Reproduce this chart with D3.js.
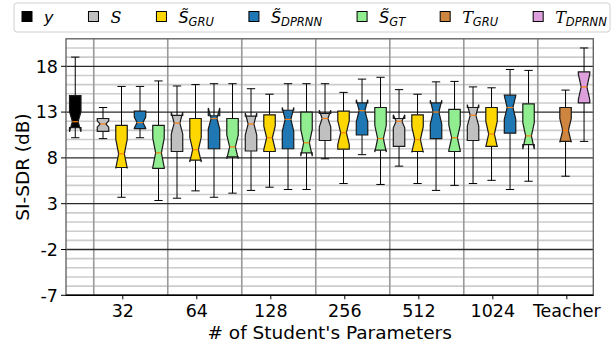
<!DOCTYPE html>
<html>
<head>
<meta charset="utf-8">
<script src="https://cdn.jsdelivr.net/npm/d3@7"></script>
<style>
  body { margin: 0; background: #fff; }
  svg { display: block; }
  text { font-family: "DejaVu Sans", sans-serif; fill: #000; }
</style>
</head>
<body>
<svg id="chart" width="616" height="350"></svg>
<script>
// Student model sizes on the x axis
const groups = ["32", "64", "128", "256", "512", "1024"];
const tickLabels = ["32", "64", "128", "256", "512", "1024", "Teacher"];
const yTicks = [-7, -2, 3, 8, 13, 18];

// Each box: [whisker low, q1, median, q3, whisker high, notch half-height]  (SI-SDR, dB)
const mixture = [10.2, 11.3, 11.95, 14.8, 19.0, 1.1];
const studentS = [
  [10.1, 10.9, 11.7, 12.3, 13.5, 0.35],
  [3.6, 8.7, 11.8, 12.65, 15.85, 1.2],
  [4.45, 8.75, 11.7, 12.55, 15.55, 1.2],
  [7.9, 9.9, 12.3, 12.85, 16.1, 0.9],
  [7.1, 9.25, 12.0, 12.3, 15.45, 0.72],
  [5.2, 9.9, 12.65, 13.5, 15.75, 1.17]
];
const studentGRU = [
  [3.7, 6.95, 8.45, 11.55, 15.8, 1.6],
  [4.4, 7.75, 8.9, 12.3, 16.0, 1.35],
  [4.8, 8.7, 10.2, 12.7, 14.95, 1.3],
  [5.2, 8.95, 10.75, 13.1, 15.15, 1.3],
  [5.2, 8.7, 10.0, 12.7, 14.95, 1.4],
  [5.55, 9.25, 10.6, 13.5, 15.65, 1.4]
];
const studentDPRNN = [
  [10.2, 11.2, 11.85, 13.1, 15.8, 0.6],
  [3.7, 9.0, 12.3, 12.6, 16.1, 1.15],
  [4.55, 9.0, 12.2, 13.2, 16.1, 1.3],
  [8.35, 10.5, 13.15, 14.0, 16.6, 1.2],
  [4.45, 10.1, 13.0, 14.0, 16.3, 1.3],
  [4.55, 10.7, 13.5, 14.85, 17.65, 1.3]
];
const studentGT = [
  [3.35, 6.85, 8.55, 11.55, 16.4, 1.6],
  [4.15, 8.1, 9.2, 12.3, 16.1, 1.3],
  [4.55, 8.55, 9.65, 13.0, 16.1, 1.46],
  [5.1, 8.85, 10.1, 13.5, 16.8, 1.46],
  [5.0, 8.7, 10.2, 13.3, 16.35, 1.4],
  [5.45, 9.45, 10.4, 13.9, 17.55, 1.45]
];
const teacherGRU = [6.0, 9.8, 11.0, 13.5, 15.4, 1.3];
const teacherDPRNN = [9.8, 14.0, 15.75, 17.4, 20.0, 1.4];

const svg = d3.select("#chart");
const W = 616, H = 350;
svg.append("rect").attr("width", W).attr("height", H).attr("fill", "#fff");

const x = d3.scaleLinear().domain([-0.5, 28]).range([66, 593.3]);
const y = d3.scaleLinear().domain([-7, 21]).range([295.3, 38.8]);

const BOX_W = 0.62, CAP_W = 0.45;

// Group g starts at slot 1 + 4g; boxes sit in the middle of each slot
const groupStart = g => 1 + 4 * g;
const boxes = [];
boxes.push({ pos: 0, s: mixture, fill: "#000000" });
groups.forEach((_, g) => {
  const s0 = groupStart(g);
  boxes.push({ pos: s0 + 0.5, s: studentS[g], fill: "#c0c0c0" });
  boxes.push({ pos: s0 + 1.5, s: studentGRU[g], fill: "#ffd700" });
  boxes.push({ pos: s0 + 2.5, s: studentDPRNN[g], fill: "#1f77b4" });
  boxes.push({ pos: s0 + 3.5, s: studentGT[g], fill: "#90ee90" });
});
const tStart = groupStart(groups.length);
boxes.push({ pos: tStart + 1.5, s: teacherGRU, fill: "#cd853f" });
boxes.push({ pos: tStart + 2.5, s: teacherDPRNN, fill: "#dda0dd" });

// grid: minor every 1 dB, major at the labelled ticks
const grid = svg.append("g");
d3.range(-6, 21).filter(v => !yTicks.includes(v)).forEach(v => {
  grid.append("line").attr("x1", x(-0.5)).attr("x2", x(28))
    .attr("y1", y(v)).attr("y2", y(v))
    .attr("stroke", "#cccccc").attr("stroke-width", 1.6);
});
d3.range(0, groups.length + 1).forEach(g => {
  const xv = x(groupStart(g));
  grid.append("line").attr("x1", xv).attr("x2", xv)
    .attr("y1", y(21)).attr("y2", y(-7))
    .attr("stroke", "#999999").attr("stroke-width", 1.6);
});
yTicks.forEach(v => {
  grid.append("line").attr("x1", x(-0.5)).attr("x2", x(28))
    .attr("y1", y(v)).attr("y2", y(v))
    .attr("stroke", "#2a2a2a").attr("stroke-width", 1.3);
});

// boxes
const plot = svg.append("g");
boxes.forEach(b => {
  const [lo, q1, med, q3, hi, ci] = b.s;
  const cx = x(b.pos);
  const L = x(b.pos - BOX_W / 2), R = x(b.pos + BOX_W / 2);
  const NL = x(b.pos - BOX_W / 4), NR = x(b.pos + BOX_W / 4);
  const cL = x(b.pos - CAP_W / 2), cR = x(b.pos + CAP_W / 2);
  // whiskers and caps
  [[q1, lo], [q3, hi]].forEach(([a, e]) => {
    plot.append("line").attr("x1", cx).attr("x2", cx).attr("y1", y(a)).attr("y2", y(e))
      .attr("stroke", "#000").attr("stroke-width", 1);
    plot.append("line").attr("x1", cL).attr("x2", cR).attr("y1", y(e)).attr("y2", y(e))
      .attr("stroke", "#000").attr("stroke-width", 1);
  });
  // notched box outline
  const pts = [
    [L, y(q1)], [R, y(q1)], [R, y(med - ci)], [NR, y(med)], [R, y(med + ci)],
    [R, y(q3)], [L, y(q3)], [L, y(med + ci)], [NL, y(med)], [L, y(med - ci)], [L, y(q1)]
  ];
  plot.append("path").attr("d", d3.line()(pts) + "Z")
    .attr("fill", b.fill).attr("stroke", "#1a1a1a").attr("stroke-width", 1.2)
    .attr("stroke-linejoin", "miter");
  plot.append("line").attr("x1", NL).attr("x2", NR).attr("y1", y(med)).attr("y2", y(med))
    .attr("stroke", "#ff7f0e").attr("stroke-width", 1.2);
});

// frame
svg.append("rect").attr("x", x(-0.5)).attr("y", y(21))
  .attr("width", x(28) - x(-0.5)).attr("height", y(-7) - y(21))
  .attr("fill", "none").attr("stroke", "#666").attr("stroke-width", 1.4);
svg.append("line").attr("x1", x(-0.5)).attr("x2", x(28)).attr("y1", y(-7)).attr("y2", y(-7))
  .attr("stroke", "#000").attr("stroke-width", 1.4);

// y axis ticks and labels
const yAxis = svg.append("g");
yTicks.forEach(v => {
  yAxis.append("line").attr("x1", x(-0.5) - 5).attr("x2", x(-0.5))
    .attr("y1", y(v)).attr("y2", y(v)).attr("stroke", "#000").attr("stroke-width", 1);
  yAxis.append("text").attr("x", x(-0.5) - 8).attr("y", y(v) + 6.3)
    .attr("text-anchor", "end").attr("font-size", 17.5).text(v);
});

// x axis ticks and labels
const xAxis = svg.append("g");
tickLabels.forEach((lab, i) => {
  const xv = x(groupStart(i) + 1.57);
  xAxis.append("line").attr("x1", xv).attr("x2", xv)
    .attr("y1", y(-7)).attr("y2", y(-7) + 4).attr("stroke", "#000").attr("stroke-width", 1);
  xAxis.append("text").attr("x", xv).attr("y", 317)
    .attr("text-anchor", "middle").attr("font-size", 17.5).text(lab);
});

svg.append("text").attr("x", (x(-0.5) + x(28)) / 2).attr("y", 339)
  .attr("text-anchor", "middle").attr("font-size", 18.5).text("# of Student's Parameters");
svg.append("text").attr("transform", "translate(29,167) rotate(-90)")
  .attr("text-anchor", "middle").attr("font-size", 18.5).text("SI-SDR (dB)");

// legend
const legendItems = [
  { fill: "#000000", main: "y", sub: "", serif: false },
  { fill: "#c0c0c0", main: "S", sub: "", serif: true },
  { fill: "#ffd700", main: "S\u0303", sub: "GRU", serif: false },
  { fill: "#1f77b4", main: "S\u0303", sub: "DPRNN", serif: false },
  { fill: "#90ee90", main: "S\u0303", sub: "GT", serif: false },
  { fill: "#cd853f", main: "T", sub: "GRU", serif: true },
  { fill: "#dda0dd", main: "T", sub: "DPRNN", serif: true }
];
const legend = svg.append("g");
legend.append("rect").attr("x", 14).attr("y", 3).attr("width", 596).attr("height", 29)
  .attr("rx", 3).attr("fill", "#fff").attr("stroke", "#d0d0d0").attr("stroke-width", 1);
let lx = 22;
legendItems.forEach(it => {
  legend.append("rect").attr("x", lx).attr("y", 11.5).attr("width", 10).attr("height", 10)
    .attr("fill", it.fill).attr("stroke", "#000").attr("stroke-width", 1);
  const t = legend.append("text").attr("x", lx + 22).attr("y", 22.5).attr("font-size", 16);
  t.append("tspan").attr("font-style", "italic")
    .attr("font-family", it.serif ? "'DejaVu Serif', serif" : "'DejaVu Sans', sans-serif")
    .text(it.main);
  if (it.sub) {
    t.append("tspan").attr("font-style", "italic").attr("font-size", 11.5)
      .attr("dy", 3).text(it.sub);
  }
  lx = lx + 22 + t.node().getComputedTextLength() + 35;
});
</script>
</body>
</html>
